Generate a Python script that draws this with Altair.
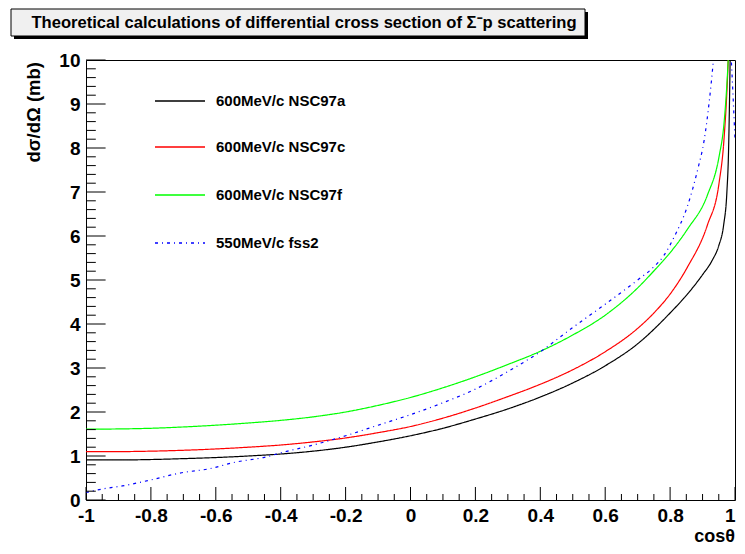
import altair as alt
import pandas as pd
import numpy as np

TITLE = "Theoretical calculations of differential cross section of \u03a3\u207bp scattering"
Y_TITLE = "d\u03c3/d\u03a9 (mb)"
X_TITLE = "cos\u03b8"

SERIES = ["600MeV/c NSC97a", "600MeV/c NSC97c", "600MeV/c NSC97f", "550MeV/c fss2"]
COLORS = ["#000000", "#ff0000", "#00ff00", "#0000ff"]
DASHES = [[1, 0], [1, 0], [1, 0], [3, 4, 1, 4]]

# NSC97a (black)
x_a = [-1.0, -0.9, -0.8, -0.7, -0.6, -0.5, -0.4, -0.3, -0.2, -0.1, 0.0, 0.1, 0.2, 0.3, 0.4,
       0.5, 0.6, 0.7, 0.8, 0.85, 0.9, 0.93, 0.95, 0.965, 0.975, 0.98, 0.985, 0.99, 1.0]
y_a = [0.91, 0.91, 0.92, 0.94, 0.965, 1.0, 1.045, 1.11, 1.20, 1.32, 1.46, 1.63, 1.84, 2.07, 2.34,
       2.66, 3.05, 3.55, 4.25, 4.65, 5.12, 5.45, 5.78, 6.25, 7.0, 7.9, 10.0, 13.0, 20.0]

# NSC97c (red)
x_c = [-1.0, -0.9, -0.8, -0.7, -0.6, -0.5, -0.4, -0.3, -0.2, -0.1, 0.0, 0.1, 0.2, 0.3, 0.4,
       0.5, 0.6, 0.7, 0.75, 0.8, 0.854, 0.915, 0.951, 0.966, 0.979, 0.99, 1.0]
y_c = [1.10, 1.10, 1.11, 1.13, 1.16, 1.20, 1.25, 1.32, 1.41, 1.53, 1.67, 1.86, 2.09, 2.35, 2.63,
       2.96, 3.37, 3.90, 4.25, 4.68, 5.30, 6.25, 7.21, 8.19, 10.0, 13.0, 20.0]

# NSC97f (green)
x_f = [-1.0, -0.9, -0.8, -0.7, -0.6, -0.5, -0.4, -0.3, -0.2, -0.1, 0.0, 0.1, 0.2, 0.3, 0.4,
       0.5, 0.6, 0.7, 0.753, 0.8, 0.854, 0.915, 0.951, 0.966, 0.975, 0.979, 0.99, 1.0]
y_f = [1.61, 1.615, 1.63, 1.66, 1.70, 1.75, 1.81, 1.89, 2.0, 2.15, 2.33, 2.55, 2.80, 3.08, 3.38,
       3.75, 4.2, 4.82, 5.23, 5.62, 6.16, 6.93, 7.81, 8.55, 9.45, 10.0, 13.0, 20.0]

# fss2 (blue, dash-dot)
x_s = [-1.0, -0.95, -0.888, -0.81, -0.705, -0.62, -0.54, -0.45, -0.39, -0.3, -0.2, -0.1, 0.0,
       0.1, 0.2, 0.3, 0.4, 0.5, 0.6, 0.7, 0.75, 0.78, 0.814, 0.854, 0.885, 0.905, 0.921, 0.934,
       0.95, 0.97, 0.985, 0.99, 1.0]
y_s = [0.17, 0.25, 0.32, 0.44, 0.62, 0.71, 0.86, 0.97, 1.09, 1.25, 1.46, 1.70, 1.94,
       2.21, 2.52, 2.92, 3.37, 3.92, 4.45, 5.0, 5.3, 5.55, 6.0, 6.69, 7.51, 8.18, 9.08, 10.04,
       11.5, 12.0, 10.5, 9.8, 8.2]

X_MAJOR = [-1, -0.8, -0.6, -0.4, -0.2, 0, 0.2, 0.4, 0.6, 0.8, 1]
Y_MAJOR = [0, 1, 2, 3, 4, 5, 6, 7, 8, 9, 10]
X_MINOR = [v for v in np.round(np.arange(-1, 1.0001, 0.05), 2) if not any(abs(v - m) < 1e-6 for m in X_MAJOR)]
Y_MINOR = [v for v in np.round(np.arange(0, 10.0001, 0.2), 2) if not any(abs(v - m) < 1e-6 for m in Y_MAJOR)]

W, H = 649, 440
FONT = "Liberation Sans"

frames = []
for name, xs_, ys_ in zip(SERIES, [x_a, x_c, x_f, x_s], [y_a, y_c, y_f, y_s]):
    frames.append(pd.DataFrame({"series": name, "x": xs_, "y": ys_}))
df = pd.concat(frames, ignore_index=True)

xsc = alt.Scale(domain=[-1, 1], nice=False, zero=False)
ysc = alt.Scale(domain=[0, 10], nice=False, zero=False)
csc = alt.Scale(domain=SERIES, range=COLORS)
dsc = alt.Scale(domain=SERIES, range=DASHES)

x_axis = alt.Axis(values=X_MAJOR, labelExpr="'' + datum.value", ticks=False, domain=False, grid=False,
                  labelFont=FONT, labelFontWeight="bold", labelFontSize=19, labelColor="black",
                  labelPadding=6, labelFlush=False, labelOverlap=False, title=None,
                  labelAlign={"condition": {"test": "datum.value == 1", "value": "right"}, "value": "center"})
y_axis = alt.Axis(values=Y_MAJOR, labelExpr="'' + datum.value", ticks=False, domain=False, grid=False,
                  labelFont=FONT, labelFontWeight="bold", labelFontSize=19, labelColor="black",
                  labelPadding=6, labelFlush=False, labelOverlap=False, title=None)

lines = alt.Chart(df).mark_line(clip=True, strokeWidth=1.2, interpolate="monotone").encode(
    x=alt.X("x:Q", scale=xsc, axis=x_axis),
    y=alt.Y("y:Q", scale=ysc, axis=y_axis),
    color=alt.Color("series:N", scale=csc, legend=None),
    strokeDash=alt.StrokeDash("series:N", scale=dsc, legend=None),
    order=alt.Order("x:Q"),
)

def xticks(vals, length):
    return alt.Chart(pd.DataFrame({"x": vals})).mark_rule(color="black", strokeWidth=1).encode(
        x=alt.X("x:Q", scale=xsc), y=alt.value(H), y2=alt.value(H - length))

def yticks(vals, length):
    return alt.Chart(pd.DataFrame({"y": vals})).mark_rule(color="black", strokeWidth=1).encode(
        y=alt.Y("y:Q", scale=ysc), x=alt.value(0), x2=alt.value(length))

one = pd.DataFrame({"t": [TITLE]})
shadow = alt.Chart(one).mark_rect(color="black").encode(
    x=alt.value(-72), x2=alt.value(502), y=alt.value(-48), y2=alt.value(-21))
box = alt.Chart(one).mark_rect(fill="#f0f0f0", stroke="black", strokeWidth=1).encode(
    x=alt.value(-75), x2=alt.value(499), y=alt.value(-51), y2=alt.value(-24))
title = alt.Chart(one).mark_text(font=FONT, fontWeight="bold", fontSize=16.6, align="center",
                                 baseline="middle", color="black").encode(
    x=alt.value(218), y=alt.value(-37), text="t:N")

ytitle = alt.Chart(pd.DataFrame({"t": [Y_TITLE]})).mark_text(
    font=FONT, fontWeight="bold", fontSize=18.5, angle=270, align="right", baseline="middle", color="black"
).encode(x=alt.value(-52), y=alt.value(2), text="t:N")
xtitle = alt.Chart(pd.DataFrame({"t": [X_TITLE]})).mark_text(
    font=FONT, fontWeight="bold", fontSize=18, align="right", baseline="alphabetic", color="black"
).encode(x=alt.value(W), y=alt.value(H + 42), text="t:N")

LEGEND_Y = [41, 87, 135, 183]
legend_layers = []
for name, yy in zip(SERIES, LEGEND_Y):
    d = pd.DataFrame({"series": [name]})
    legend_layers.append(alt.Chart(d).mark_rule(strokeWidth=1.5).encode(
        x=alt.value(69), x2=alt.value(119), y=alt.value(yy),
        color=alt.Color("series:N", scale=csc, legend=None),
        strokeDash=alt.StrokeDash("series:N", scale=dsc, legend=None)))
    legend_layers.append(alt.Chart(d).mark_text(font=FONT, fontWeight="bold", fontSize=15, align="left",
                                                baseline="middle", color="black").encode(
        x=alt.value(130), y=alt.value(yy), text="series:N"))

chart = alt.layer(
    lines,
    xticks(X_MAJOR, 13), xticks(X_MINOR, 6),
    yticks(Y_MAJOR, 19.6), yticks(Y_MINOR, 9.8),
    shadow, box, title, ytitle, xtitle,
    *legend_layers,
).properties(
    width=W, height=H,
    autosize=alt.AutoSizeParams(type="none"),
    padding={"left": 78, "top": 52, "right": 2, "bottom": 46},
    background="white",
).configure_view(stroke="black", strokeWidth=1)

chart.save("out.html", embed_options={"renderer": "svg", "actions": False})
